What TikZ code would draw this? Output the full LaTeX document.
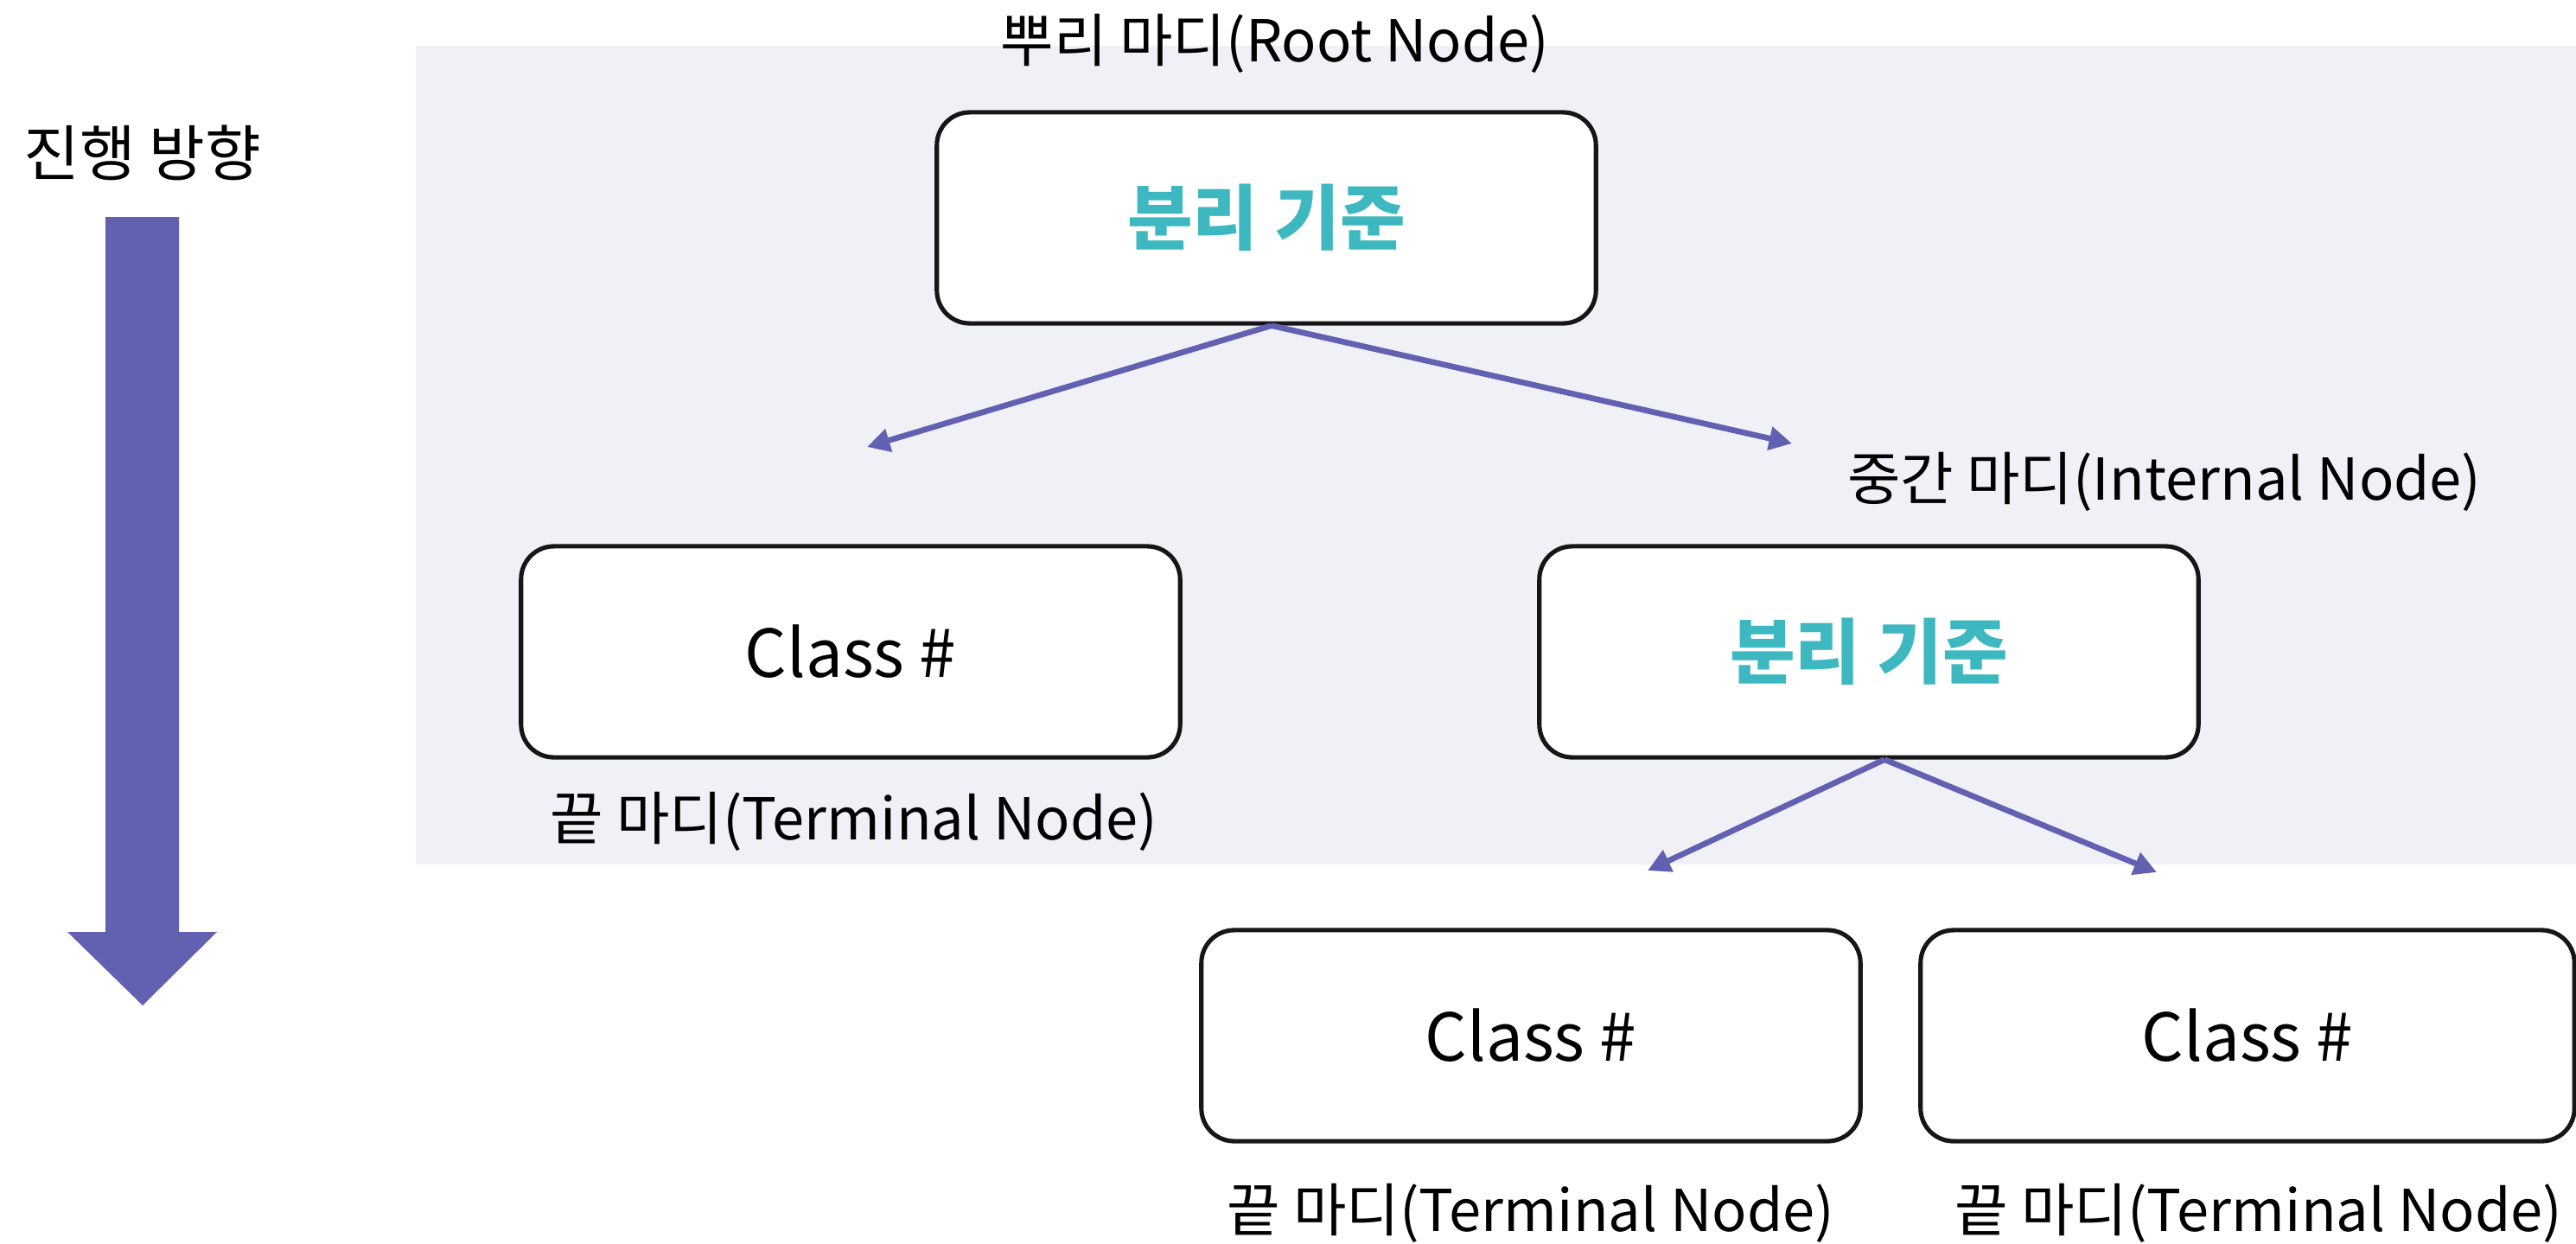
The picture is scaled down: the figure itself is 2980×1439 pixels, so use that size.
\documentclass[tikz,border=0pt]{standalone}
\usepackage{fontspec}
\setmainfont{Noto Sans CJK KR}
\usetikzlibrary{arrows.meta}
\definecolor{bgpanel}{RGB}{240,241,246}
\definecolor{flow}{RGB}{97,96,177}
\definecolor{teal}{RGB}{62,184,192}
\definecolor{boxline}{RGB}{22,22,24}
\begin{document}
\begin{tikzpicture}[x=0.01cm,y=-0.01cm,
  nodebox/.style={draw=boxline,line width=1.45pt,fill=white,rounded corners=0.38cm,
    minimum width=7.62cm,minimum height=2.44cm,inner sep=0pt,font=\fontsize{21.7}{26}\selectfont},
  splitbox/.style={nodebox,text=teal,font=\fontsize{23.4}{28}\selectfont\bfseries},
  lbl/.style={font=\fontsize{19}{23}\selectfont,inner sep=0pt,text=black},
  conn/.style={draw=flow,line width=1.9pt,-{Triangle[length=7.5pt,width=7.5pt]}}]
\useasboundingbox (0,0) rectangle (2980,1439);
\fill[bgpanel] (481,53) rectangle (2980,1000);
% big direction arrow
\fill[flow] (122,251) -- (207,251) -- (207,1078) -- (251,1078) -- (165,1163) -- (78,1078) -- (122,1078) -- cycle;
\node[lbl,font=\fontsize{20}{24}\selectfont] (dir) at (165,177) {진행 방향};
% nodes
\node[splitbox] (root) at (1465,252) {분리 기준};
\node[nodebox] (leaf1) at (984,754) {Class \#};
\node[splitbox] (inner) at (2162,754) {분리 기준};
\node[nodebox] (leaf2) at (1771,1198) {Class \#};
\node[nodebox,minimum width=7.56cm] (leaf3) at (2600,1198) {Class \#};
% labels
\node[lbl] (rootlbl) at (1475,50) {뿌리 마디(Root Node)};
\node[lbl] (innerlbl) at (2504,557) {중간 마디(Internal Node)};
\node[lbl] (leaf1lbl) at (988,950) {끝 마디(Terminal Node)};
\node[lbl] (leaf2lbl) at (1771,1403) {끝 마디(Terminal Node)};
\node[lbl] (leaf3lbl) at (2613,1403) {끝 마디(Terminal Node)};
% connectors
\coordinate (e1) at (1003,517);
\coordinate (e2) at (2073,513);
\coordinate (e3) at (1906,1007);
\coordinate (e4) at (2495,1009);
\draw[conn] ([xshift=0.06cm]root.south) -- (e1);
\draw[conn] ([xshift=0.06cm]root.south) -- (e2);
\draw[conn] ([xshift=0.18cm]inner.south) -- (e3);
\draw[conn] ([xshift=0.18cm]inner.south) -- (e4);
\end{tikzpicture}
\end{document}
